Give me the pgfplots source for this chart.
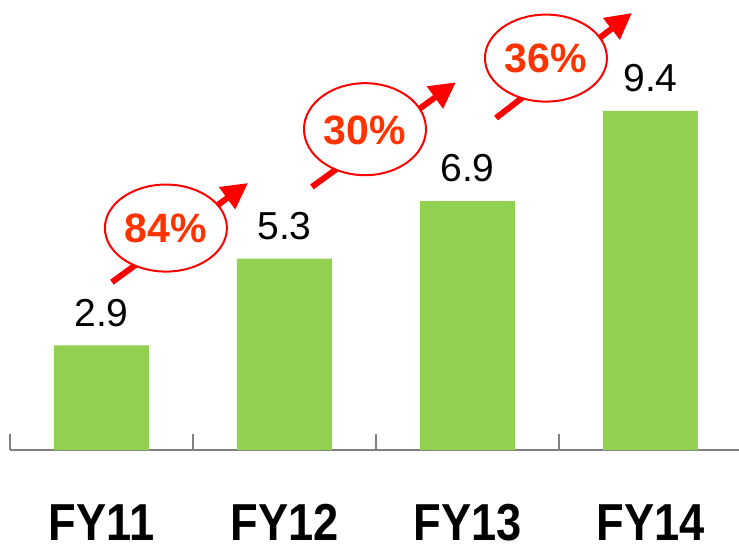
\documentclass[border=0pt]{standalone}
\usepackage{graphicx}
\usepackage{pgfplots}
\pgfplotsset{compat=1.18}
\usepackage{fontspec}
\setmainfont{Liberation Sans}
\usetikzlibrary{arrows.meta}
\definecolor{bargreen}{RGB}{146,208,80}
\definecolor{pcttext}{RGB}{255,51,0}
\begin{document}
\begin{tikzpicture}
\begin{axis}[
 name=ax,
 scale only axis,
 width=729pt, height=450pt,
 xmin=-0.5, xmax=3.484,
 ymin=0, ymax=12.47,
 axis x line=bottom,
 axis y line=none,
 x axis line style={-, draw=gray, line width=1.2pt},
 tick align=inside,
 xtick={0,1,2,3},
 xticklabels={\scalebox{0.87}[1]{FY11},\scalebox{0.87}[1]{FY12},\scalebox{0.87}[1]{FY13},\scalebox{0.87}[1]{FY14}},
 major tick length=0pt,
 minor xtick={-0.5,0.5,1.5,2.5},
 minor tick length=16pt,
 minor x tick style={draw=gray, line width=1.2pt},
 xticklabel style={anchor=base, inner sep=0pt, yshift=-90pt, font=\fontsize{52}{60}\selectfont\bfseries},
 clip=false,
]
\addplot[ybar, bar width=95pt, fill=bargreen, draw=none,
  point meta=explicit symbolic,
  nodes near coords,
  every node near coord/.append style={font=\fontsize{39}{45}\selectfont, anchor=base, yshift=19pt, inner sep=0pt, text=black}]
  coordinates {(0,2.9) [2.9] (1,5.3) [5.3] (2,6.9) [6.9] (3,9.4) [9.4]};

\draw[red, line width=6pt, -{Triangle[length=26pt,width=26pt]}] (axis cs:0.057,4.65) -- (axis cs:0.801,7.40);
\draw[red, line width=2pt, fill=white] (axis cs:0.352,6.15) ellipse [x radius=61pt, y radius=43.5pt];
\node[text=pcttext, font=\fontsize{41}{48}\selectfont\bfseries] at (axis cs:0.352,6.15) {84\%};

\draw[red, line width=6pt, -{Triangle[length=26pt,width=26pt]}] (axis cs:1.150,7.29) -- (axis cs:1.937,10.19);
\draw[red, line width=2pt, fill=white] (axis cs:1.440,8.89) ellipse [x radius=61pt, y radius=46pt];
\node[text=pcttext, font=\fontsize{41}{48}\selectfont\bfseries] at (axis cs:1.440,8.85) {30\%};

\draw[red, line width=6pt, -{Triangle[length=26pt,width=26pt]}] (axis cs:2.156,9.20) -- (axis cs:2.899,12.11);
\draw[red, line width=2pt, fill=white] (axis cs:2.429,10.86) ellipse [x radius=61pt, y radius=43.5pt];
\node[text=pcttext, font=\fontsize{41}{48}\selectfont\bfseries] at (axis cs:2.429,10.86) {36\%};
\end{axis}
\pgfresetboundingbox
\path ([xshift=-10pt,yshift=-96pt]ax.south west) rectangle (ax.north east);
\end{tikzpicture}
\end{document}
